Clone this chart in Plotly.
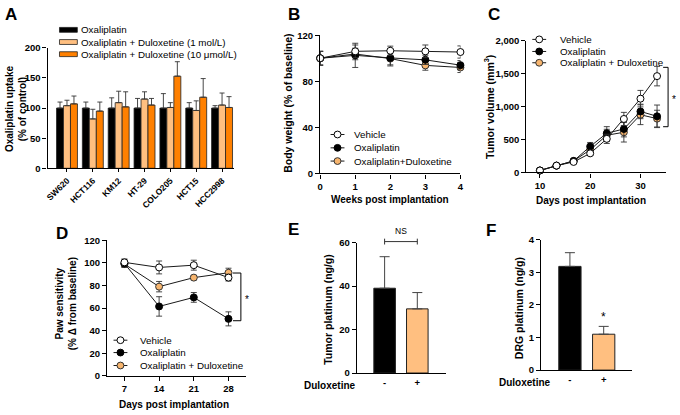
import plotly.graph_objects as go

W, H = 680, 415
FONT = "Arial, 'Liberation Sans', Helvetica, sans-serif"
BLACK = "#000000"
LIGHT = "#FFBF80"
ORANGE = "#FF8000"
DUL_MK = "#F7B56E"
EDGE = "#222222"

# ---------------- data ----------------
# Panel A
cell_lines = ["SW620", "HCT116", "KM12", "HT-29", "COLO205", "HCT15", "HCC2998"]
a_oxali = [100, 100, 100, 100, 100, 100, 100]
a_oxali_err = [10, 10, 17, 16, 24, 9, 4]
a_dul1 = [104, 82, 109, 115, 101, 96, 105]
a_dul1_err = [9, 16, 19, 12, 8, 16, 20]
a_dul10 = [107, 95, 102, 105, 153, 118, 101]
a_dul10_err = [13, 15, 25, 11, 24, 31, 18]
a_names = ["Oxaliplatin", "Oxaliplatin + Duloxetine (1 mol/L)",
           "Oxaliplatin + Duloxetine (10 \u03bcmol/L)"]

# Panel B
weeks = [0, 1, 2, 3, 4]
b_vehicle = [100, 106, 106.5, 106, 105.4]
b_vehicle_err = [6, 5.5, 4, 5.5, 5.3]
b_oxali = [100, 102.5, 100.3, 98.6, 94]
b_oxali_err = [6, 10.5, 6, 4, 4]
b_dul = [100, 103.7, 99.7, 93.8, 92]
b_dul_err = [6, 5, 6.4, 4.2, 4.4]

# Panel C
days_c = [10, 13.3, 16.7, 20, 23.3, 26.7, 30, 33.3]
c_vehicle = [30, 104, 160, 290, 510, 812, 1120, 1462]
c_vehicle_err = [10, 15, 20, 30, 70, 100, 125, 148]
c_oxali = [30, 104, 175, 395, 595, 660, 926, 852]
c_oxali_err = [10, 15, 25, 60, 100, 120, 110, 171]
c_dul = [30, 104, 175, 345, 565, 610, 876, 817]
c_dul_err = [10, 15, 25, 50, 90, 148, 150, 127]

# Panel D
days_d = [7, 14, 21, 28]
d_vehicle = [100.5, 96, 98, 87]
d_vehicle_err = [3, 5.7, 4.4, 3]
d_oxali = [99.5, 61.5, 69.5, 50.5]
d_oxali_err = [3, 8.6, 4.3, 6.2]
d_dul = [99, 79, 87, 91.3]
d_dul_err = [3, 4.6, 2, 4]

line_names = ["Vehicle", "Oxaliplatin", "Oxaliplatin + Duloxetine"]
line_names_b = ["Vehicle", "Oxaliplatin", "Oxaliplatin+Duloxetine"]

# Panel E / F
dulox_ticks = ["-", "+"]
e_vals = [39, 29.5]
e_err = [14.5, 7.5]
f_vals = [3.18, 1.10]
f_err = [0.42, 0.24]

# ---------------- helpers ----------------
def fx(x):
    return x / W

def fy(y):
    return 1 - y / H

fig = go.Figure()

# ---------------- Panel A bars ----------------
a_sets = [(a_oxali, a_oxali_err, BLACK, -0.405),
          (a_dul1, a_dul1_err, LIGHT, -0.135),
          (a_dul10, a_dul10_err, ORANGE, 0.135)]
for (vals, errs, col, off), nm in zip(a_sets, a_names):
    fig.add_trace(go.Bar(
        x=cell_lines, y=vals, name=nm, width=0.27, offset=off,
        marker=dict(color=col, line=dict(color=EDGE, width=0.8)),
        error_y=dict(type="data", array=errs, arrayminus=[0] * len(errs),
                     symmetric=False, color="#333333", thickness=0.9, width=2.5),
        xaxis="x", yaxis="y", showlegend=False))

# ---------------- line panels ----------------
def add_lines(xv, series, xa, ya):
    styles = [("white", BLACK), (BLACK, BLACK), (DUL_MK, "#333333")]
    order = [2, 1, 0]
    for i in order:
        vals, errs, nm = series[i]
        fill, edge = styles[i]
        fig.add_trace(go.Scatter(
            x=xv, y=vals, name=nm, mode="lines+markers",
            line=dict(color="#1a1a1a", width=1),
            marker=dict(symbol="circle", size=7, color=fill,
                        line=dict(color=edge, width=1)),
            error_y=dict(type="data", array=errs, color="#333333",
                         thickness=0.9, width=3),
            cliponaxis=False, xaxis=xa, yaxis=ya, showlegend=False))

add_lines(weeks, [(b_vehicle, b_vehicle_err, line_names_b[0]),
                  (b_oxali, b_oxali_err, line_names_b[1]),
                  (b_dul, b_dul_err, line_names_b[2])], "x2", "y2")
add_lines(days_c, [(c_vehicle, c_vehicle_err, line_names[0]),
                   (c_oxali, c_oxali_err, line_names[1]),
                   (c_dul, c_dul_err, line_names[2])], "x3", "y3")
add_lines(days_d, [(d_vehicle, d_vehicle_err, line_names[0]),
                   (d_oxali, d_oxali_err, line_names[1]),
                   (d_dul, d_dul_err, line_names[2])], "x4", "y4")

# ---------------- Panel E / F ----------------
for vals, errs, xa, ya in [(e_vals, e_err, "x5", "y5"), (f_vals, f_err, "x6", "y6")]:
    fig.add_trace(go.Bar(
        x=dulox_ticks, y=vals, width=0.66,
        marker=dict(color=[BLACK, LIGHT], line=dict(color=EDGE, width=1)),
        error_y=dict(type="data", array=errs, arrayminus=[0, 0], symmetric=False,
                     color="#444444", thickness=1, width=5),
        xaxis=xa, yaxis=ya, showlegend=False))

# ---------------- axes ----------------
tickfont = dict(family=FONT, size=9.5, color="black", weight="bold")

def ax(**kw):
    d = dict(showline=True, linecolor="black", linewidth=1.3, ticks="outside",
             ticklen=4, tickwidth=1.2, tickcolor="black", showgrid=False,
             gridcolor="rgba(0,0,0,0)", zeroline=False, tickfont=tickfont,
             fixedrange=True)
    d.update(kw)
    return d

layout_axes = dict(
    xaxis=ax(domain=[fx(45), fx(233)], anchor="y", type="category",
             range=[-0.75, 6.46], tickangle=-45, ticklen=3,
             tickfont=dict(family=FONT, size=8.5, color="black", weight="bold")),
    yaxis=ax(domain=[fy(166.7), fy(43)], anchor="x", range=[0, 200], dtick=50),
    xaxis2=ax(domain=[fx(320), fx(461.5)], anchor="y2", range=[0, 4], dtick=1),
    yaxis2=ax(domain=[fy(172), fy(30)], anchor="x2", range=[0, 120], dtick=40),
    xaxis3=ax(domain=[fx(528), fx(669)], anchor="y3", range=[7.3, 35.1],
              tickvals=[10, 20, 30]),
    yaxis3=ax(domain=[fy(171), fy(35.6)], anchor="x3", range=[0, 2000],
              dtick=500, tickformat=","),
    xaxis4=ax(domain=[fx(105), fx(245)], anchor="y4", range=[3.5, 31.5],
              tickvals=days_d),
    yaxis4=ax(domain=[fy(380), fy(240.7)], anchor="x4", range=[0, 120], dtick=20),
    xaxis5=ax(domain=[fx(357), fx(447)], anchor="y5", type="category",
              range=[-0.85, 1.88], ticks="", ticklen=0),
    yaxis5=ax(domain=[fy(377), fy(243)], anchor="x5", range=[0, 60], dtick=20),
    xaxis6=ax(domain=[fx(543), fx(635)], anchor="y6", type="category",
              range=[-0.85, 1.85], ticks="", ticklen=0),
    yaxis6=ax(domain=[fy(374), fy(240)], anchor="x6", range=[0, 4], dtick=1),
)

# ---------------- annotations ----------------
annots = []

def txt(x, y, s, size=9, bold=True, angle=0, xanchor="center", yanchor="middle"):
    annots.append(dict(x=fx(x), y=fy(y), xref="paper", yref="paper", text=s,
                       showarrow=False, textangle=angle, xanchor=xanchor,
                       yanchor=yanchor,
                       font=dict(family=FONT, size=size, color="black",
                                 weight="bold" if bold else "normal")))

# panel letters
for L, x, y in [("A", 8.5, 9), ("B", 293.5, 9), ("C", 495, 9),
                ("D", 60, 233.5), ("E", 293, 230), ("F", 492, 231)]:
    txt(x, y, L, size=17)

# axis titles
txt(13, 105, "Oxaliplatin uptake<br>(% of control)", size=10, angle=-90)
txt(288, 100, "Body weight (% of baseline)", size=10.5, angle=-90)
txt(390, 199, "Weeks post implantation", size=10)
txt(490, 104, "Tumor volume (mm<sup>3</sup>)", size=10.5, angle=-90)
txt(593, 200, "Days post implantation", size=10)
txt(63, 306, "Paw sensitivity<br>(% \u0394 from baseline)", size=10, angle=-90)
txt(173, 409, "Days post implantation", size=10)
txt(328, 312, "Tumor platinum (ng/g)", size=10.5, angle=-90)
txt(520, 310, "DRG platinum (ng/g)", size=10.5, angle=-90)
txt(358, 390, "Duloxetine", size=10, xanchor="right")
txt(555, 387, "Duloxetine", size=10, xanchor="right")

# significance marks
txt(401.5, 231, "NS", size=8.5, bold=False)
txt(606, 319, "*", size=12, bold=False)
txt(677, 96, "*", size=10, bold=False)
txt(246, 301, "*", size=10, bold=False)

shapes = []

def seg(x0, y0, x1, y1, color="black", width=1):
    shapes.append(dict(type="line", xref="paper", yref="paper",
                       x0=fx(x0), y0=fy(y0), x1=fx(x1), y1=fy(y1),
                       line=dict(color=color, width=width)))

# brackets
seg(671, 63, 671, 124)
seg(666, 63, 671, 63)
seg(666, 124, 671, 124)
seg(240, 274.3, 240, 323.3)
seg(232, 274.3, 240, 274.3)
seg(232, 323.3, 240, 323.3)
seg(385, 242, 418, 242, color="#333333")
seg(385, 239, 385, 245, color="#333333")
seg(418, 239, 418, 245, color="#333333")

# legend A
for nm, col, yy in zip(a_names, [BLACK, LIGHT, ORANGE], [24.5, 37, 49.5]):
    shapes.append(dict(type="rect", xref="paper", yref="paper",
                       x0=fx(57), x1=fx(75), y0=fy(yy + 2.5), y1=fy(yy - 2.5),
                       fillcolor=col, line=dict(color=EDGE, width=0.8)))
    txt(77, yy, nm, size=9.8, bold=False, xanchor="left")

# line legends
def line_legend(cx, rows, tx, names):
    fills = [("white", BLACK), (BLACK, BLACK), (DUL_MK, "#333333")]
    for (fill, edge), yy, nm in zip(fills, rows, names):
        seg(cx - 7, yy, cx + 7, yy, color="#1a1a1a", width=1)
        shapes.append(dict(type="circle", xref="paper", yref="paper",
                           x0=fx(cx - 3.5), x1=fx(cx + 3.5),
                           y0=fy(yy + 3.5), y1=fy(yy - 3.5),
                           fillcolor=fill, line=dict(color=edge, width=1)))
        txt(tx, yy, nm, size=9.8, bold=False, xanchor="left")

line_legend(337.5, [132, 145.7, 159.3], 352, line_names_b)
line_legend(541, [34.3, 46.7, 58.3], 560, line_names)
line_legend(118.5, [343.3, 356, 369.3], 136, line_names)

fig.update_layout(
    width=W, height=H, autosize=False,
    margin=dict(l=0, r=0, t=0, b=0, pad=0),
    paper_bgcolor="white", plot_bgcolor="white",
    font=dict(family=FONT, color="black"),
    showlegend=False, annotations=annots, shapes=shapes,
    **layout_axes)

fig.write_html("out.html", config={"displayModeBar": False},
               post_script="document.body.style.margin='0';document.body.style.overflow='hidden';")
